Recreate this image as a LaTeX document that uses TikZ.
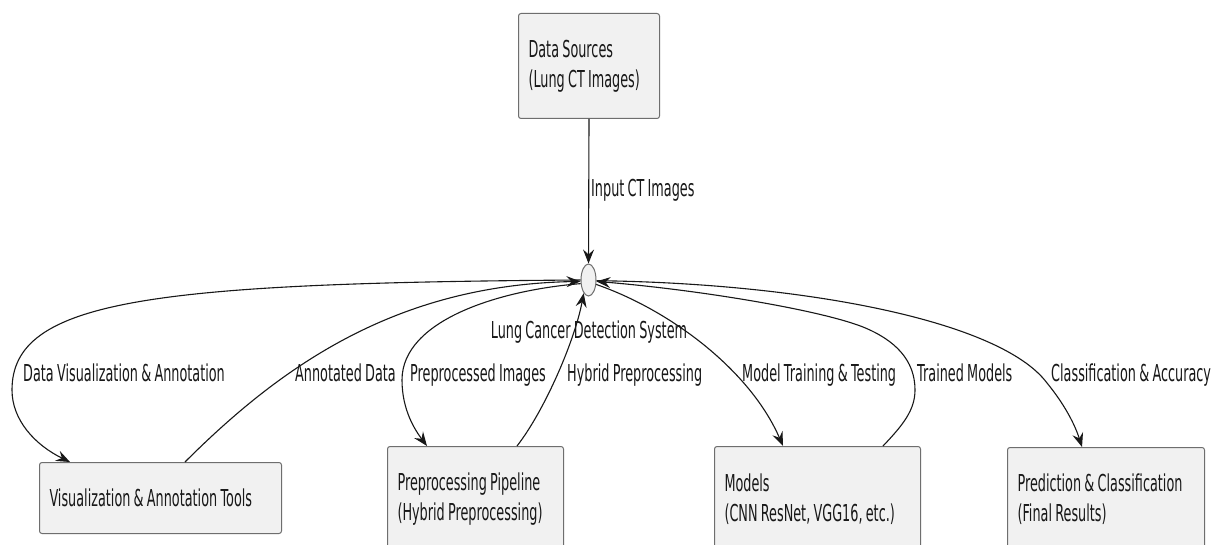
\documentclass[tikz,border=0pt]{standalone}
\usepackage{fontspec}
\setmainfont{DejaVu Sans}[FakeStretch=0.55,WordSpace=0.8]
\usetikzlibrary{shapes.geometric,arrows.meta}
\definecolor{boxfill}{HTML}{F1F1F1}
\definecolor{boxline}{HTML}{6E6E6E}
\definecolor{ink}{HTML}{181818}
\begin{document}
\begin{tikzpicture}[x=1pt,y=-1pt,
  font=\fontsize{23.3}{30}\selectfont,
  box/.style={draw=boxline, fill=boxfill, line width=1pt, rounded corners=2.5pt,
    align=flush left, inner xsep=10pt, inner ysep=0pt, anchor=north west, text=ink},
  lbl/.style={inner sep=0pt, text=ink, anchor=base west},
  conn/.style={draw=ink, line width=1.1pt},
  arr/.style={conn, -{Stealth[length=14pt,width=11pt,inset=5pt]}}]
\useasboundingbox (0,0) rectangle (1217,545);
\fill[white] (0,0) rectangle (1217,545);
\clip (0,0) rectangle (1217,545);

% nodes
\node[box, text width=121pt, minimum height=105pt] (ds) at (518,13) {Data Sources\\(Lung CT Images)};
\node[ellipse, draw=boxline, fill=boxfill, line width=1pt, minimum width=15pt, minimum height=32pt, inner sep=0pt] (lc) at (588.5,280) {};
\node[inner sep=0pt, text=ink, anchor=base] (lcl) at (589,338) {Lung Cancer Detection System};

\node[box, text width=222pt, minimum height=71pt] (vis) at (39,462) {Visualization \& Annotation Tools};
\node[box, text width=156pt, minimum height=105pt] (pre) at (387,446) {Preprocessing Pipeline\\(Hybrid Preprocessing)};
\node[box, text width=186pt, minimum height=105pt] (models) at (714,446) {Models\\(CNN ResNet, VGG16, etc.)};
\node[box, text width=177pt, minimum height=104pt] (pred) at (1007,447) {Prediction \& Classification\\(Final Results)};

% labels
\node[lbl] (l0) at (591,197) {Input CT Images};
\node[lbl] (l1) at (23,381) {Data Visualization \& Annotation};
\node[lbl] (l2) at (295,381) {Annotated Data};
\node[lbl] (l3) at (410,381) {Preprocessed Images};
\node[lbl] (l4) at (567,381) {Hybrid Preprocessing};
\node[lbl] (l5) at (742,381) {Model Training \& Testing};
\node[lbl] (l6) at (917,381) {Trained Models};
\node[lbl] (l7) at (1051,381) {Classification \& Accuracy};

% connectors
\draw[arr] (ds.south) -- (lc.north);
\draw[arr] (lc.west) .. controls (150,283) and (12,300) .. (12,390)
  .. controls (12,420) and (35,445) .. ([xshift=31pt]vis.north west);
\draw[arr] ([xshift=146pt]vis.north west) .. controls (285,362) and (400,285) .. (lc.190);
\draw[arr] (lc.205) .. controls (500,290) and (402,320) .. (402,380)
  .. controls (402,410) and (415,430) .. ([xshift=40pt]pre.north west);
\draw[arr] ([xshift=130pt]pre.north west) .. controls (545,410) and (575,340) .. (lc.250);
\draw[arr] (lc.-30) .. controls (670,310) and (750,370) .. ([xshift=69pt]models.north west);
\draw[arr] ([xshift=169pt]models.north west) .. controls (903,425) and (915,410) .. (915,390)
  .. controls (915,360) and (895,340) .. (863,327)
  .. controls (820,310) and (700,290) .. (lc.-10);
\draw[arr] (lc.-5) .. controls (800,283) and (1000,320) .. (1047,383)
  .. controls (1065,405) and (1075,425) .. ([xshift=75pt]pred.north west);
\end{tikzpicture}
\end{document}
